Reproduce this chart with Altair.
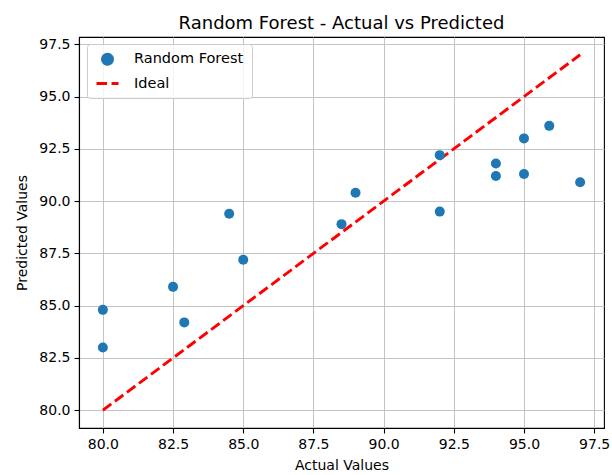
import altair as alt
import pandas as pd

actual = [80.0, 80.0, 82.5, 82.9, 84.5, 85.0, 88.5, 89.0, 92.0, 92.0, 94.0, 94.0, 95.0, 95.0, 95.9, 97.0]
predicted = [84.8, 83.0, 85.9, 84.2, 89.4, 87.2, 88.9, 90.4, 92.2, 89.5, 91.8, 91.2, 93.0, 91.3, 93.6, 90.9]
ideal = [80.0, 97.0]
ticks = [80.0, 82.5, 85.0, 87.5, 90.0, 92.5, 95.0, 97.5]
series_names = ["Random Forest", "Ideal"]

df_pts = pd.DataFrame({"actual": actual, "predicted": predicted, "series": series_names[0]})
df_line = pd.DataFrame({"actual": ideal, "predicted": ideal, "series": series_names[1]})

FONT = "DejaVu Sans"
dom = [79.15, 97.85]

xenc = alt.X("actual:Q", title="Actual Values",
             scale=alt.Scale(domain=dom, nice=False, zero=False),
             axis=alt.Axis(values=ticks, format=".1f", titlePadding=7))
yenc = alt.Y("predicted:Q", title="Predicted Values",
             scale=alt.Scale(domain=dom, nice=False, zero=False),
             axis=alt.Axis(values=ticks, format=".1f", titlePadding=9))

legend = alt.Legend(title=None, orient="none", legendX=8, legendY=7,
                    padding=8, labelOffset=14, rowPadding=0,
                    strokeColor="#cccccc", fillColor="rgba(255,255,255,0.8)",
                    cornerRadius=3, labelFont=FONT, labelFontSize=14.5,
                    labelColor="black", symbolStrokeWidth=2.9, symbolOpacity=1)

color_scale = alt.Scale(domain=series_names, range=["#1f77b4", "#ff0000"])
shape_scale = alt.Scale(domain=series_names, range=["circle", "stroke"])
size_scale = alt.Scale(domain=series_names, range=[100, 484])
dash_scale = alt.Scale(domain=series_names, range=[[1, 0], [10.5, 4.5]])

points = alt.Chart(df_pts).mark_point(filled=True, opacity=1).encode(
    x=xenc, y=yenc,
    color=alt.Color("series:N", scale=color_scale, legend=legend),
    shape=alt.Shape("series:N", scale=shape_scale, legend=legend),
    size=alt.Size("series:N", scale=size_scale, legend=legend),
)

line = alt.Chart(df_line).mark_line(strokeWidth=2.9).encode(
    x=xenc, y=yenc,
    color=alt.Color("series:N", scale=color_scale, legend=legend),
    strokeDash=alt.StrokeDash("series:N", scale=dash_scale, legend=legend),
)

chart = alt.layer(line, points).properties(
    width=525, height=391,
    background="white",
    title=alt.Title("Random Forest - Actual vs Predicted", font=FONT, fontSize=18,
                    fontWeight="normal", color="black", offset=4),
    padding={"left": 79, "top": 37, "right": 8, "bottom": 47},
    autosize=alt.AutoSizeParams(type="none"),
).configure_view(stroke="black", strokeWidth=1.1).configure_axis(
    labelFont=FONT, labelFontSize=14, labelColor="black",
    titleFont=FONT, titleFontSize=14, titleColor="black", titleFontWeight="normal",
    domainColor="black", domainWidth=1.1, tickColor="black", tickWidth=1.1,
    tickSize=5, labelPadding=4, grid=True, gridColor="#c4c4c4", gridWidth=1,
)

chart.save("out.html", embed_options={"renderer": "svg", "actions": False})
